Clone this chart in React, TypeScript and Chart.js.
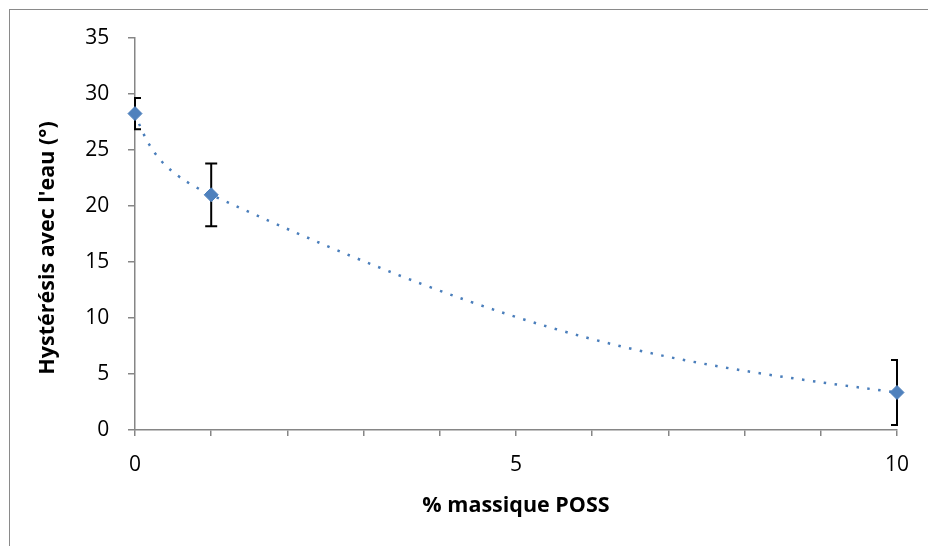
import React, { useEffect, useRef } from 'react';
import { Chart, registerables } from 'chart.js';

Chart.register(...registerables);

// ---- data ----
const xValues = [0, 1, 10];
const yValues = [28.25, 21.0, 3.35];
const yErrors = [1.4, 2.8, 2.9];
const xLabeledTicks = [0, 5, 10];
const xAxisTitle = '% massique POSS';
const yAxisTitle = "Hystérésis avec l'eau (°)";

const markerColor = '#4F81BD';
const lineColor = '#4A7EBB';
const axisColor = '#868686';
const fontFamily = '"Open Sans", Lato, sans-serif';

type Pt = { x: number; y: number };

const sub = (a: Pt, b: Pt): Pt => ({ x: a.x - b.x, y: a.y - b.y });
const len = (a: Pt) => Math.hypot(a.x, a.y);
const unit = (a: Pt): Pt => {
  const l = len(a) || 1;
  return { x: a.x / l, y: a.y / l };
};

// Smoothed (Bezier) line through the data points, drawn from the scale pixels
const smoothCurvePlugin = {
  id: 'smoothCurve',
  beforeDatasetsDraw(chart: any) {
    const meta = chart.getDatasetMeta(0);
    const pts: Pt[] = meta.data.map((e: any) => ({ x: e.x, y: e.y }));
    const n = pts.length;
    if (n < 2) return;
    const dirs: Pt[] = new Array(n);
    for (let i = 1; i < n - 1; i++) {
      const v1 = sub(pts[i], pts[i - 1]);
      const v2 = sub(pts[i + 1], pts[i]);
      const s1 = Math.sqrt(len(v1)) || 1;
      const s2 = Math.sqrt(len(v2)) || 1;
      dirs[i] = unit({ x: v1.x / s1 + v2.x / s2, y: v1.y / s1 + v2.y / s2 });
    }
    const reflect = (nb: Pt, c: Pt): Pt => {
      const d = nb.x * c.x + nb.y * c.y;
      return { x: 2 * d * c.x - nb.x, y: 2 * d * c.y - nb.y };
    };
    if (n === 2) {
      dirs[0] = unit(sub(pts[1], pts[0]));
      dirs[1] = dirs[0];
    } else {
      dirs[0] = reflect(dirs[1], unit(sub(pts[1], pts[0])));
      dirs[n - 1] = reflect(dirs[n - 2], unit(sub(pts[n - 1], pts[n - 2])));
    }
    const ctx: CanvasRenderingContext2D = chart.ctx;
    ctx.save();
    ctx.strokeStyle = lineColor;
    ctx.lineWidth = 2.5;
    ctx.setLineDash([2.5, 8.5]);
    ctx.beginPath();
    ctx.moveTo(pts[0].x, pts[0].y);
    for (let i = 0; i < n - 1; i++) {
      const d = len(sub(pts[i + 1], pts[i]));
      const h0 = i === 0 ? d / 3 : d * 0.5;
      const h1 = i + 1 === n - 1 ? d / 3 : d * 0.5;
      ctx.bezierCurveTo(
        pts[i].x + dirs[i].x * h0,
        pts[i].y + dirs[i].y * h0,
        pts[i + 1].x - dirs[i + 1].x * h1,
        pts[i + 1].y - dirs[i + 1].y * h1,
        pts[i + 1].x,
        pts[i + 1].y
      );
    }
    ctx.stroke();
    ctx.restore();
  },
};

const errorBarPlugin = {
  id: 'errorBars',
  beforeDatasetsDraw(chart: any) {
    const { ctx, chartArea, scales } = chart;
    const xs = scales.x;
    const ys = scales.y;
    ctx.save();
    ctx.beginPath();
    ctx.rect(chartArea.left - 1, chartArea.top - 20, chartArea.right - chartArea.left + 2, chartArea.bottom - chartArea.top + 40);
    ctx.clip();
    ctx.strokeStyle = '#000000';
    ctx.lineWidth = 2;
    ctx.setLineDash([]);
    const cap = 6;
    xValues.forEach((xv, i) => {
      const px = xs.getPixelForValue(xv);
      const top = ys.getPixelForValue(yValues[i] + yErrors[i]);
      const bot = ys.getPixelForValue(yValues[i] - yErrors[i]);
      ctx.beginPath();
      ctx.moveTo(px, top);
      ctx.lineTo(px, bot);
      ctx.moveTo(px - cap, top);
      ctx.lineTo(px + cap, top);
      ctx.moveTo(px - cap, bot);
      ctx.lineTo(px + cap, bot);
      ctx.stroke();
    });
    ctx.restore();
  },
};

export default function App() {
  const canvasRef = useRef<HTMLCanvasElement | null>(null);

  useEffect(() => {
    const canvas = canvasRef.current;
    if (!canvas) return;
    const chart = new Chart(canvas, {
      type: 'scatter',
      data: {
        datasets: [
          {
            data: xValues.map((x, i) => ({ x, y: yValues[i] })),
            showLine: false,
            clip: false,
            pointStyle: 'rectRot',
            pointRadius: 7,
            pointHoverRadius: 7,
            pointBackgroundColor: markerColor,
            pointBorderColor: markerColor,
            pointBorderWidth: 1,
          },
        ],
      },
      options: {
        responsive: false,
        animation: false,
        devicePixelRatio: 1,
        layout: { padding: { top: 38, right: 31, left: 0, bottom: 0 } },
        plugins: {
          legend: { display: false },
          tooltip: { enabled: false },
        },
        scales: {
          x: {
            type: 'linear',
            min: 0,
            max: 10,
            ticks: {
              stepSize: 1,
              autoSkip: false,
              maxRotation: 0,
              padding: 16,
              color: '#000000',
              font: { family: fontFamily, size: 21 },
              callback: (v: any) => (xLabeledTicks.includes(Number(v)) ? String(v) : ''),
            },
            grid: {
              drawOnChartArea: false,
              drawTicks: true,
              tickLength: 6,
              color: axisColor,
              lineWidth: 1.5,
            },
            border: { color: axisColor, width: 1.5 },
            title: {
              display: true,
              text: xAxisTitle,
              color: '#000000',
              font: { family: fontFamily, size: 21.5, weight: 'bold' },
              padding: { top: 0, bottom: 27 },
            },
            afterFit: (s: any) => {
              s.height = 116;
            },
          },
          y: {
            type: 'linear',
            min: 0,
            max: 35,
            ticks: {
              stepSize: 5,
              padding: 18.7,
              color: '#000000',
              font: { family: fontFamily, size: 21 },
            },
            grid: {
              drawOnChartArea: false,
              drawTicks: true,
              tickLength: 7,
              color: axisColor,
              lineWidth: 1.5,
            },
            border: { color: axisColor, width: 1.5 },
            title: {
              display: true,
              text: yAxisTitle + '\u00A0'.repeat(5),
              color: '#000000',
              font: { family: fontFamily, size: 21.5, weight: 'bold' },
              padding: { top: 35, bottom: 0 },
            },
            afterFit: (s: any) => {
              s.width = 135;
            },
          },
        },
      } as any,
      plugins: [smoothCurvePlugin, errorBarPlugin],
    });
    return () => chart.destroy();
  }, []);

  return (
    <div
      style={{
        position: 'fixed',
        left: 0,
        top: 0,
        width: 928,
        height: 546,
        overflow: 'hidden',
        background: '#ffffff',
      }}
    >
      <div
        style={{
          position: 'absolute',
          left: 9,
          top: 9,
          width: 1000,
          height: 600,
          borderTop: '1px solid #8a8a8a',
          borderLeft: '1px solid #8a8a8a',
        }}
      />
      <canvas
        ref={canvasRef}
        width={928}
        height={546}
        style={{ position: 'absolute', left: 0, top: 0, width: 928, height: 546 }}
      />
    </div>
  );
}
